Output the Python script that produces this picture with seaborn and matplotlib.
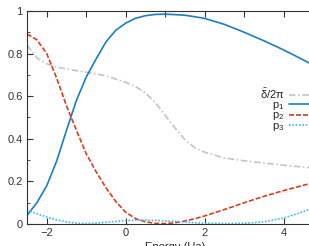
import numpy as np
import pandas as pd
import seaborn as sns
import matplotlib.pyplot as plt
from matplotlib.ticker import MultipleLocator

sns.set_style("ticks")
plt.rcParams['font.family'] = ['Liberation Sans', 'DejaVu Sans']
plt.rcParams['mathtext.fontset'] = 'custom'
plt.rcParams['mathtext.rm'] = 'Liberation Sans'
plt.rcParams['mathtext.it'] = 'Liberation Sans'

# energy grid (Ha) and curves
energy = [-2.5, -2.25, -2.0, -1.75, -1.5, -1.25, -1.0, -0.75, -0.5, -0.25,
          0.0, 0.25, 0.5, 0.75, 1.0, 1.25, 1.5, 1.75, 2.0, 2.5, 3.0, 3.5, 4.0, 4.5, 5.0]
delta = [0.84, 0.78, 0.752, 0.737, 0.728, 0.72, 0.713, 0.705, 0.695, 0.68,
         0.665, 0.645, 0.615, 0.57, 0.51, 0.45, 0.395, 0.358, 0.337, 0.31, 0.297, 0.286,
         0.276, 0.267, 0.26]
p1 = [0.04, 0.10, 0.18, 0.295, 0.44, 0.58, 0.69, 0.775, 0.855, 0.91,
      0.943, 0.966, 0.978, 0.984, 0.985, 0.983, 0.98, 0.973, 0.965, 0.937, 0.90, 0.86,
      0.817, 0.77, 0.72]
p2 = [0.892, 0.865, 0.80, 0.685, 0.555, 0.44, 0.33, 0.245, 0.17, 0.105,
      0.055, 0.025, 0.01, 0.003, 0.002, 0.006, 0.014, 0.025, 0.038, 0.068, 0.10, 0.13,
      0.157, 0.182, 0.205]
p3 = [0.065, 0.048, 0.033, 0.02, 0.01, 0.004, 0.002, 0.004, 0.008, 0.012,
      0.016, 0.018, 0.018, 0.017, 0.015, 0.012, 0.009, 0.006, 0.004, 0.002, 0.003, 0.01,
      0.028, 0.058, 0.095]

labels = [r'$\bar{\delta}/2\pi$', r'p$_1$', r'p$_2$', r'p$_3$']
colors = ['#c4c4c4', '#1a7fc1', '#d2401f', '#3cbbea']
styles = [(0, (4, 1.5, 1, 1.5)), '-', (0, (3, 1.2)), (0, (1, 1))]

df = pd.DataFrame({'energy': energy, labels[0]: delta, labels[1]: p1,
                   labels[2]: p2, labels[3]: p3})

fig = plt.figure(figsize=(3.09, 2.46), dpi=100)
ax = fig.add_axes([27 / 309, 1 - 224 / 246, 7.5 * 39.5 / 309, 213 / 246])

for lab, c, ls in zip(labels, colors, styles):
    sns.lineplot(data=df, x='energy', y=lab, ax=ax, color=c, linestyle=ls,
                 linewidth=1.2, label=lab)

ax.set_xlim(-2.5, 5)
ax.set_ylim(0, 1)
ax.xaxis.set_major_locator(MultipleLocator(2))
ax.yaxis.set_minor_locator(MultipleLocator(0.1))
ax.set_yticks([0, 0.2, 0.4, 0.6, 0.8, 1], ['0', '0.2', '0.4', '0.6', '0.8', '1'])
ax.tick_params(axis='both', which='major', direction='in', length=4, width=0.8,
               labelsize=8, colors='#333333', top=False, right=True, pad=3)
ax.tick_params(axis='y', which='minor', direction='in', length=2, width=0.6,
               right=True, colors='#333333')
sec = ax.secondary_xaxis('top')
sec.set_xticks(range(-2, 6))
sec.tick_params(direction='in', length=4, width=0.8, labeltop=False, colors='#333333')
sec.spines['top'].set_visible(False)
for s in ax.spines.values():
    s.set_color('#333333')
    s.set_linewidth(0.8)

ax.set_xlabel('Energy (Ha)', fontsize=8, labelpad=3, color='#222222')
ax.set_ylabel('')

leg = ax.legend(loc='upper right', bbox_to_anchor=(1.0, 1 - 87 / 246),
                bbox_transform=fig.transFigure, frameon=False, markerfirst=False,
                fontsize=8, handlelength=1.8, handletextpad=0.4, labelspacing=-0.12,
                borderaxespad=0, borderpad=0)

fig.savefig('out.png', dpi=100)
